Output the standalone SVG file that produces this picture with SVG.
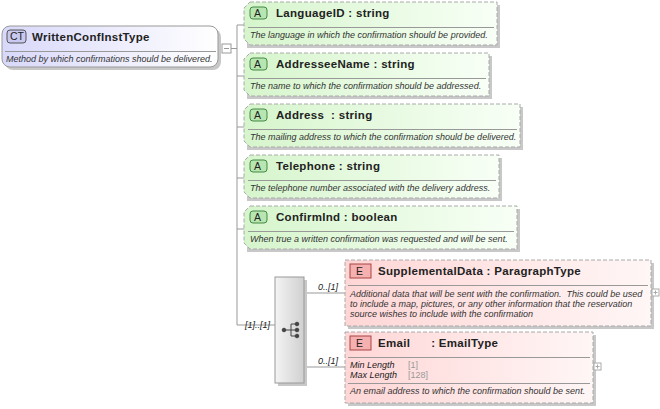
<svg xmlns="http://www.w3.org/2000/svg" width="660" height="409" viewBox="0 0 660 409">
<defs>
<linearGradient id="gA" x1="0" y1="0" x2="1" y2="0"><stop offset="0" stop-color="#d6f5cc"/><stop offset="1" stop-color="#f8fff6"/></linearGradient>
<linearGradient id="gE" x1="0" y1="0" x2="1" y2="0"><stop offset="0" stop-color="#ffd6d6"/><stop offset="1" stop-color="#fff6f6"/></linearGradient>
<linearGradient id="gC" x1="0" y1="0" x2="1" y2="0"><stop offset="0" stop-color="#d8d8fa"/><stop offset="1" stop-color="#ffffff"/></linearGradient>
<linearGradient id="gS" x1="0" y1="0" x2="1" y2="0"><stop offset="0" stop-color="#f4f4f4"/><stop offset="1" stop-color="#d0d0d0"/></linearGradient>
<style>
.sh{fill:#c8c8c8}
.a{fill:url(#gA);stroke:#aaaaaa;stroke-dasharray:4 2}
.e{fill:url(#gE);stroke:#aaaaaa;stroke-dasharray:4 2}
.t{font-family:"Liberation Sans",Arial,sans-serif;font-size:11.5px;font-weight:bold;fill:#222;letter-spacing:0.3px;white-space:pre}
.d{font-family:"Liberation Sans",Arial,sans-serif;font-size:9px;font-style:italic;fill:#333}
.g{font-family:"Liberation Sans",Arial,sans-serif;font-size:9px;fill:#999}
.sep{stroke:#999;stroke-width:1}
.ln{stroke:#999;fill:none}
.ba{fill:#b8e6b0;stroke:#448844}
.be{fill:#f5b0b0;stroke:#aa4444}
.bl{font-family:"Liberation Sans",Arial,sans-serif;font-size:10.5px;fill:#222}
.m{font-family:"Liberation Sans",Arial,sans-serif;font-size:9px;font-style:italic;fill:#222}
</style>
</defs>
<g id="connectors">
<rect x="222" y="44" width="9" height="9" fill="#fff" stroke="#999"/>
<line x1="224" y1="48.5" x2="229" y2="48.5" stroke="#999"/>
<path class="ln" d="M231 48.5H237M237 25V325M237 25H244M237 76H244M237 127H244M237 178H244M237 229H244M237 325H275M304 293H345M304 367H345"/>
<text class="m" x="245" y="328">[1]..[1]</text>
<text class="m" x="318" y="290">0..[1]</text>
<text class="m" x="318" y="364">0..[1]</text>
</g>
<g id="ct">
<rect x="5" y="29" width="216" height="41" rx="8" class="sh"/>
<rect x="2" y="26" width="216" height="41" rx="8" fill="url(#gC)" stroke="#999"/>
<rect x="7" y="30" width="19" height="13" rx="3" fill="#c8c8f0" stroke="#555"/>
<text class="bl" x="10" y="40">CT</text>
<text class="t" x="32" y="41">WrittenConfInstType</text>
<line class="sep" x1="5" y1="51.5" x2="216" y2="51.5"/>
<text class="d" x="6" y="62">Method by which confirmations should be delivered.</text>
</g>
<g id="languageID">
<rect x="247" y="5" width="253" height="43" class="sh"/>
<path class="a" d="M250 2H497V45H250L244 39V8Z"/>
<rect x="250" y="7" width="17" height="12" rx="3" class="ba"/><text class="bl" x="254" y="17">A</text>
<text class="t" x="276" y="17">LanguageID : string</text>
<line class="sep" x1="248" y1="27.5" x2="494" y2="27.5"/>
<text class="d" x="250" y="38">The language in which the confirmation should be provided.</text>
</g>
<g id="addresseeName">
<rect x="247" y="56" width="245" height="43" class="sh"/>
<path class="a" d="M250 53H489V96H250L244 90V59Z"/>
<rect x="250" y="58" width="17" height="12" rx="3" class="ba"/><text class="bl" x="254" y="68">A</text>
<text class="t" x="276" y="68">AddresseeName : string</text>
<line class="sep" x1="248" y1="78.5" x2="486" y2="78.5"/>
<text class="d" x="250" y="89">The name to which the confirmation should be addressed.</text>
</g>
<g id="address">
<rect x="247" y="107" width="276" height="43" class="sh"/>
<path class="a" d="M250 104H520V147H250L244 141V110Z"/>
<rect x="250" y="109" width="17" height="12" rx="3" class="ba"/><text class="bl" x="254" y="119">A</text>
<text class="t" x="276" y="119">Address  : string</text>
<line class="sep" x1="248" y1="129.5" x2="517" y2="129.5"/>
<text class="d" x="250" y="140">The mailing address to which the confirmation should be delivered.</text>
</g>
<g id="telephone">
<rect x="247" y="158" width="255" height="43" class="sh"/>
<path class="a" d="M250 155H499V198H250L244 192V161Z"/>
<rect x="250" y="160" width="17" height="12" rx="3" class="ba"/><text class="bl" x="254" y="170">A</text>
<text class="t" x="276" y="170">Telephone : string</text>
<line class="sep" x1="248" y1="180.5" x2="496" y2="180.5"/>
<text class="d" x="250" y="191">The telephone number associated with the delivery address.</text>
</g>
<g id="confirmInd">
<rect x="247" y="209" width="273" height="43" class="sh"/>
<path class="a" d="M250 206H517V249H250L244 243V212Z"/>
<rect x="250" y="211" width="17" height="12" rx="3" class="ba"/><text class="bl" x="254" y="221">A</text>
<text class="t" x="276" y="221">ConfirmInd : boolean</text>
<line class="sep" x1="248" y1="231.5" x2="514" y2="231.5"/>
<text class="d" x="250" y="242">When true a written confirmation was requested and will be sent.</text>
</g>
<g id="sequence">
<rect x="278" y="280" width="29" height="106" class="sh"/>
<rect x="275" y="277" width="29" height="106" fill="url(#gS)" stroke="#999"/>
<g fill="#444" stroke="#444">
<circle cx="284" cy="330" r="1.8"/><circle cx="297" cy="324" r="1.8"/><circle cx="297" cy="330" r="1.8"/><circle cx="297" cy="336" r="1.8"/>
<path d="M284 330H297M291 324V336M291 324H297M291 336H297" fill="none"/>
</g>
</g>
<g id="supplementalData">
<rect x="348" y="263" width="306" height="66" class="sh"/>
<rect x="345" y="260" width="306" height="66" class="e"/>
<rect x="350" y="264" width="21" height="14" class="be"/><text class="bl" x="356" y="275">E</text>
<text class="t" x="378" y="275">SupplementalData : ParagraphType</text>
<line class="sep" x1="348" y1="285.5" x2="648" y2="285.5"/>
<text class="d" x="350" y="297" style="white-space:pre">Additional data that will be sent with the confirmation.  This could be used</text>
<text class="d" x="350" y="307">to include a map, pictures, or any other information that the reservation</text>
<text class="d" x="350" y="317">source wishes to include with the confirmation</text>
<rect x="652" y="289" width="7" height="7" fill="#fff" stroke="#aaa"/>
<path d="M653.5 292.5H657.5M655.5 290.5V294.5" stroke="#aaa"/>
</g>
<g id="email">
<rect x="348" y="335" width="248" height="71" class="sh"/>
<rect x="345" y="332" width="248" height="71" class="e"/>
<rect x="350" y="336" width="21" height="14" class="be"/><text class="bl" x="356" y="347">E</text>
<text class="t" x="378" y="347">Email      : EmailType</text>
<line class="sep" x1="348" y1="357.5" x2="590" y2="357.5"/>
<text class="m" x="350" y="368">Min Length</text><text class="g" x="408" y="368">[1]</text>
<text class="m" x="350" y="378">Max Length</text><text class="g" x="408" y="378">[128]</text>
<line class="sep" x1="348" y1="383.5" x2="590" y2="383.5"/>
<text class="d" x="350" y="394">An email address to which the confirmation should be sent.</text>
<rect x="594" y="363" width="7" height="7" fill="#fff" stroke="#aaa"/>
<path d="M595.5 366.5H599.5M597.5 364.5V368.5" stroke="#aaa"/>
</g>
</svg>
